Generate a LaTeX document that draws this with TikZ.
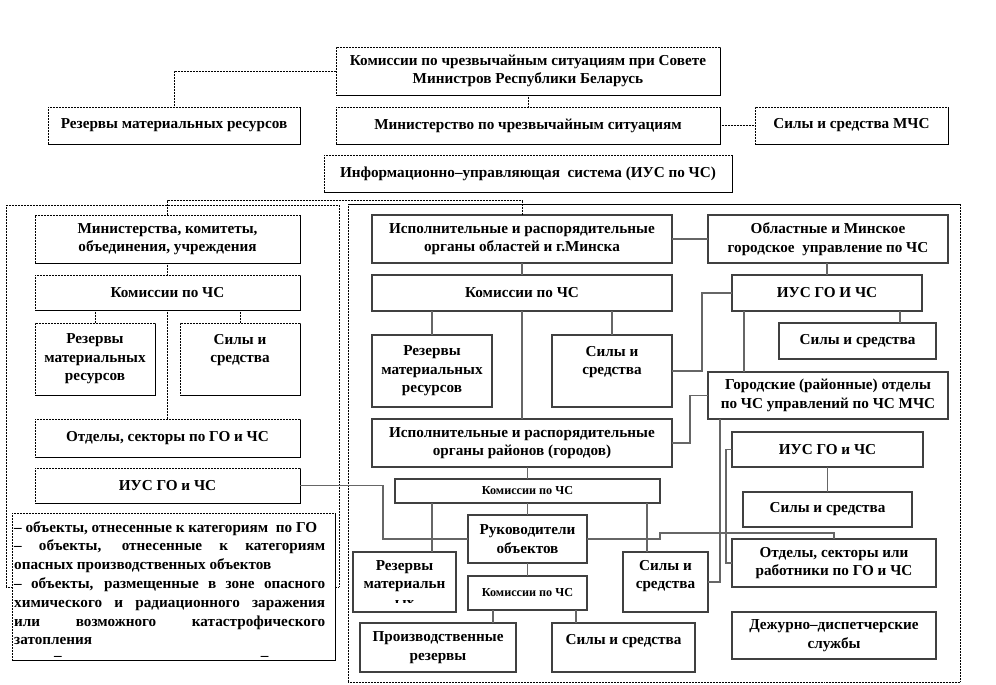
\documentclass[tikz,border=0pt]{standalone}
\usepackage{fontspec}
\setmainfont{Liberation Serif}
\usetikzlibrary{shadows}
\newcommand\fsA{\fontsize{15.2}{18.6}\selectfont\bfseries}
\newcommand\fsB{\fontsize{12.2}{14}\selectfont\bfseries}
\newcommand\bx[7]{\node[#6, minimum width={#4-#2}, minimum height={#5-#3}] (#1) at ({(#2+#4)/2},{(#3+#5)/2}) {#7};}
\tikzset{
  dotline/.style={line width=0.8pt, dash pattern=on 0.8pt off 0.7pt},
  dotbox/.style={draw, dotline, fill=white, inner sep=0pt, outer sep=0pt, align=center, font=\fsA,
    general shadow={shadow xshift=1.3pt, shadow yshift=-1.3pt, fill=black}},
  gbox/.style={draw=black!75, line width=1.2pt, fill=white, inner sep=0pt, outer sep=0pt, align=center, font=\fsA},
  sbox/.style={gbox, font=\fsB},
  dconn/.style={draw, dotline},
  gconn/.style={draw=black!60, line width=1.5pt},
  tdp/.style={text depth=#1},
}
\begin{document}
\begin{tikzpicture}[x=1pt,y=-1pt]
\useasboundingbox (0,0) rectangle (996,685);
\fill[white] (0,0) rectangle (996,685);
% frames
\draw[dotline] (6,205) rectangle (339,587);
\draw[dotline] (348,204) rectangle (960,682);
\draw[line width=1pt] (348,204) -- (960,204);
% coordinates
\coordinate (c432) at (432,0);
\coordinate (c647) at (647,0);
\coordinate (c493) at (493,0);
\coordinate (c576) at (576,0);
\coordinate (c900) at (900,0);
\coordinate (c744) at (744,0);
\coordinate (c720) at (720,0);
% top
\bx{top}{336}{47}{720}{95}{dotbox}{Комиссии по чрезвычайным ситуациям при Совете\\Министров Республики Беларусь}
\bx{res0}{48}{107}{300}{144}{dotbox}{Резервы материальных ресурсов}
\bx{min0}{336}{107}{720}{144}{dotbox}{Министерство по чрезвычайным ситуациям}
\bx{mchs}{755}{107}{948}{144}{dotbox}{Силы и средства МЧС}
\bx{ius}{324}{155}{732}{192}{dotbox}{Информационно–управляющая\ \ система (ИУС по ЧС)}
% left column
\bx{min1}{35}{215}{300}{263}{dotbox}{Министерства, комитеты,\\объединения, учреждения}
\bx{kom1}{35}{275}{300}{310}{dotbox}{Комиссии по ЧС}
\bx{res1}{35}{323}{155}{395}{dotbox}{Резервы\\материальных\\ресурсов}
\bx{sily1}{180}{323}{300}{395}{dotbox,tdp=21pt}{Силы и\\средства}
\bx{otd1}{35}{419}{300}{457}{dotbox}{Отделы, секторы по ГО и ЧС}
\bx{ius0}{35}{468}{300}{503}{dotbox}{ИУС ГО и ЧС}
% right frame, middle
\bx{isp1}{372}{215}{672}{263}{gbox}{Исполнительные и распорядительные\\органы областей и г.Минска}
\bx{kom2}{372}{275}{672}{311}{gbox}{Комиссии по ЧС}
\bx{res2}{372}{335}{492}{407}{gbox}{Резервы\\материальных\\ресурсов}
\bx{sily2}{552}{335}{672}{407}{gbox,tdp=21pt}{Силы и\\средства}
\bx{isp2}{372}{419}{672}{467}{gbox}{Исполнительные и распорядительные\\органы районов (городов)}
\bx{kom3}{395}{479}{660}{503}{sbox}{Комиссии по ЧС}
\bx{ruk}{468}{515}{587}{563}{gbox}{Руководители\\объектов}
\bx{res3}{353}{552}{456}{612}{gbox}{}
\begin{scope}
\clip (355,554) rectangle (454,602);
\node[font=\fsA, align=center, inner sep=0pt, anchor=north] at (404.5,560) {Резервы\\материальн\\ых};
\end{scope}
\bx{sily3}{623}{552}{708}{612}{gbox,tdp=15pt}{Силы и\\средства}
\bx{kom4}{468}{576}{587}{610}{sbox}{Комиссии по ЧС}
\bx{prod}{360}{623}{516}{672}{gbox}{Производственные\\резервы}
\bx{sily5}{552}{623}{695}{672}{gbox,tdp=16pt}{Силы и средства}
% right column
\bx{obl}{708}{215}{948}{263}{gbox}{Областные и Минское\\городское\ \ управление по ЧС}
\bx{ius1}{732}{275}{922}{311}{gbox}{ИУС ГО И ЧС}
\bx{sily4}{779}{323}{936}{359}{gbox}{Силы и средства}
\bx{gor}{708}{372}{948}{419}{gbox}{Городские (районные) отделы\\по ЧС управлений по ЧС МЧС}
\bx{ius2}{732}{432}{923}{467}{gbox}{ИУС ГО и ЧС}
\bx{sily6}{743}{492}{912}{527}{gbox}{Силы и средства}
\bx{otd2}{732}{539}{936}{587}{gbox}{Отделы, секторы или\\работники по ГО и ЧС}
\bx{dezh}{732}{612}{936}{659}{gbox}{Дежурно–диспетчерские\\службы}
% text box
\node[draw, dotline, fill=white, minimum width=323, minimum height=147, inner sep=0pt, outer sep=0pt,
  general shadow={shadow xshift=1.3pt, shadow yshift=-1.3pt, fill=black}] (obj) at (173.5,586.5) {};
\node[font=\fontsize{15.2}{18.8}\selectfont\bfseries, align=left, inner sep=0pt, anchor=north west] (objtxt) at (14,521) {%
– объекты, отнесенные к категориям\ \ по ГО\\
\makebox[311pt][s]{– объекты, отнесенные к категориям}\\
опасных производственных объектов\\
\makebox[311pt][s]{– объекты, размещенные в зоне опасного}\\
\makebox[311pt][s]{химического и радиационного заражения}\\
\makebox[311pt][s]{или возможного катастрофического}\\
затопления\\[-3pt]
\hspace*{40pt}–\hspace{199pt}–};
% top connectors
\draw[dconn] (top.west) -| (res0.north);
\draw[dconn] (top.south) -- (min0.north);
\draw[dconn] (min0.east) -- (mchs.west);
\draw[dconn] (min1.north) -- ++(0,-15) -| (isp1.north);
% left connectors
\draw[dconn] (min1.south) -- (kom1.north);
\draw[dconn] (kom1.south -| res1.north) -- (res1.north);
\draw[dconn] (kom1.south -| sily1.north) -- (sily1.north);
\draw[dconn] (kom1.south) -- (otd1.north);
\draw[gconn] (ius0.east) -- ++(83,0) |- (ruk.west);
% right frame connectors
\draw[gconn] (isp1.south) -- (kom2.north);
\draw[gconn] (kom2.south -| res2.north) -- (res2.north);
\draw[gconn] (kom2.south -| sily2.north) -- (sily2.north);
\draw[gconn] (kom2.south) -- (isp2.north);
\draw[gconn] (isp2.south -| kom3.north) -- (kom3.north);
\draw[gconn] (kom3.south -| c432) -- (res3.north -| c432);
\draw[gconn] (kom3.south) -- (ruk.north);
\draw[gconn] (kom3.south -| c647) -- (sily3.north -| c647);
\draw[gconn] (ruk.south) -- (kom4.north);
\draw[gconn] (kom4.south -| c493) -- (prod.north -| c493);
\draw[gconn] (kom4.south -| c576) -- (sily5.north -| c576);
\draw[gconn] (isp1.east) -- (obl.west);
\draw[gconn] (obl.south -| ius1.north) -- (ius1.north);
\draw[gconn] (ius1.south -| c900) -- (sily4.north -| c900);
\draw[gconn] (ius1.south -| c744) -- (gor.north -| c744);
\draw[gconn] (sily2.east) -- ++(30,0) |- (ius1.west);
\draw[gconn] (gor.west) -- ++(-18,0) |- (isp2.east);
\draw[gconn] (gor.south -| c720) |- (sily3.east);
\draw[gconn] (ius2.west) -- ++(-6,0) |- (otd2.west);
\draw[gconn] (ius2.south) -- (sily6.north);
\draw[gconn] (ruk.east) -- ++(73,0) -- ++(0,-6) -| (otd2.north);
\end{tikzpicture}
\end{document}
